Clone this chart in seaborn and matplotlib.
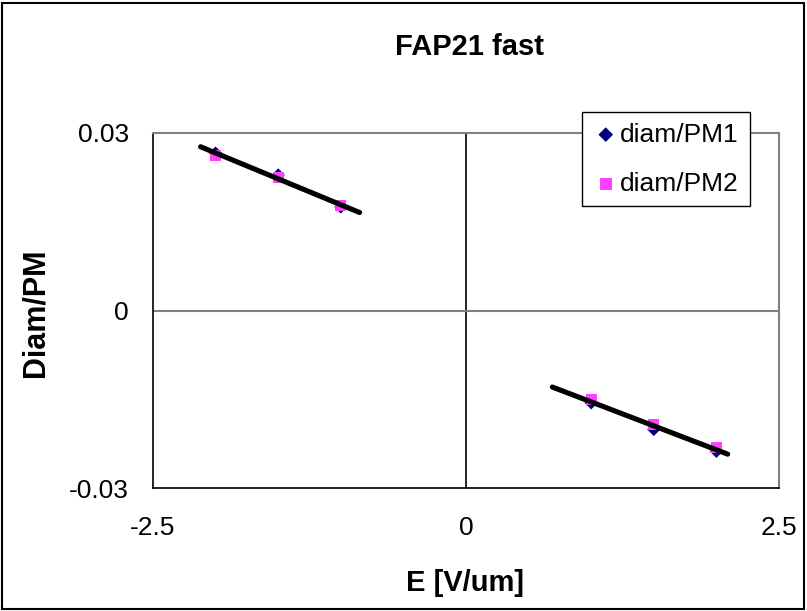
import numpy as np
import pandas as pd
import matplotlib
matplotlib.use("Agg")
import matplotlib.pyplot as plt
import seaborn as sns
from matplotlib.patches import Rectangle

# ---- data ----
E_values = [-2.0, -1.5, -1.0, 1.0, 1.5, 2.0]
pm1_values = [0.0266, 0.0229, 0.0175, -0.0156, -0.0201, -0.0238]
pm2_values = [0.0262, 0.0225, 0.0178, -0.0151, -0.0193, -0.0231]
series_names = ["diam/PM1", "diam/PM2"]
trend_left_range = [-2.12, -0.85]
trend_right_range = [0.69, 2.09]
x_ticks = [-2.5, 0, 2.5]
x_tick_labels = ["-2.5", "0", "2.5"]
y_ticks = [-0.03, 0, 0.03]
y_tick_labels = ["-0.03", "0", "0.03"]

sns.set_theme(style="white", rc={"text.color": "black", "axes.labelcolor": "black",
                                 "xtick.color": "black", "ytick.color": "black"})
plt.rcParams["font.family"] = ["Liberation Sans", "DejaVu Sans"]

df = pd.DataFrame({
    "E": E_values * 2,
    "val": pm1_values + pm2_values,
    "series": [series_names[0]] * len(E_values) + [series_names[1]] * len(E_values),
})

fig = plt.figure(figsize=(8.07, 6.11), dpi=100)
fig.patch.set_facecolor("white")
ax = fig.add_axes([153 / 807, 1 - 488 / 611, (779 - 153) / 807, (488 - 133) / 611])

# reference lines / grid
ax.axvline(0, color="black", lw=1.2, zorder=1)
ax.axhline(0, color="#808080", lw=1.5, zorder=1)

palette = {series_names[0]: "#000080", series_names[1]: "#FF40FF"}
markers = {series_names[0]: "D", series_names[1]: "s"}
sizes = {series_names[0]: 46, series_names[1]: 64}
for name in series_names:
    sub = df[df["series"] == name]
    sns.scatterplot(data=sub, x="E", y="val", marker=markers[name], color=palette[name],
                    s=sizes[name], edgecolor="none", label=name, ax=ax, zorder=3)

# trendlines (linear fit of both series on each side)
E_arr = np.array(df["E"])
v_arr = np.array(df["val"])
for rng in (trend_left_range, trend_right_range):
    m = (E_arr >= min(rng)) & (E_arr <= max(rng))
    k, b = np.polyfit(E_arr[m], v_arr[m], 1)
    xs = np.array(rng)
    sns.lineplot(x=xs, y=k * xs + b, color="black", lw=3.7, ax=ax, zorder=4,
                 legend=False)

ax.set_xlim(-2.5, 2.5)
ax.set_ylim(-0.03, 0.03)
ax.set_xticks(x_ticks)
ax.set_xticklabels(x_tick_labels)
ax.set_yticks(y_ticks)
ax.set_yticklabels(y_tick_labels)
ax.set_xlabel("")
ax.set_ylabel("")
ax.tick_params(axis="both", labelsize=19, colors="black", direction="out",
               length=6.5, width=1)
ax.tick_params(axis="y", pad=11)
ax.tick_params(axis="x", pad=14)

for s in ["left", "bottom"]:
    ax.spines[s].set_color("black")
    ax.spines[s].set_linewidth(1.2)
for s in ["top", "right"]:
    ax.spines[s].set_color("#808080")
    ax.spines[s].set_linewidth(1.5)

leg = ax.legend(loc="upper left", bbox_to_anchor=(582 / 807, 1 - 112 / 611),
                bbox_transform=fig.transFigure, borderaxespad=0, fontsize=19,
                frameon=True, fancybox=False, edgecolor="black", framealpha=1,
                handletextpad=0.05, handlelength=1.0, labelspacing=0.95,
                borderpad=0.4, markerscale=1.1)
leg.get_frame().set_linewidth(1.0)
for t in leg.get_texts():
    t.set_color("black")

fig.text(470 / 807, 1 - 47 / 611, "FAP21 fast", ha="center", va="center",
         fontsize=21, fontweight="bold", color="black")
fig.text(35 / 807, 1 - 313 / 611, "Diam/PM", ha="center", va="center",
         rotation=90, fontsize=22, fontweight="bold", color="black")
fig.text(465 / 807, 1 - 583 / 611, "E [V/um]", ha="center", va="center",
         fontsize=21, fontweight="bold", color="black")

fig.patches.append(Rectangle((2 / 807, 2 / 611), 1 - 5 / 807, 1 - 5 / 611,
                             transform=fig.transFigure, fill=False,
                             edgecolor="black", lw=1.5, zorder=10))

fig.savefig("out.png", dpi=100, facecolor="white")
